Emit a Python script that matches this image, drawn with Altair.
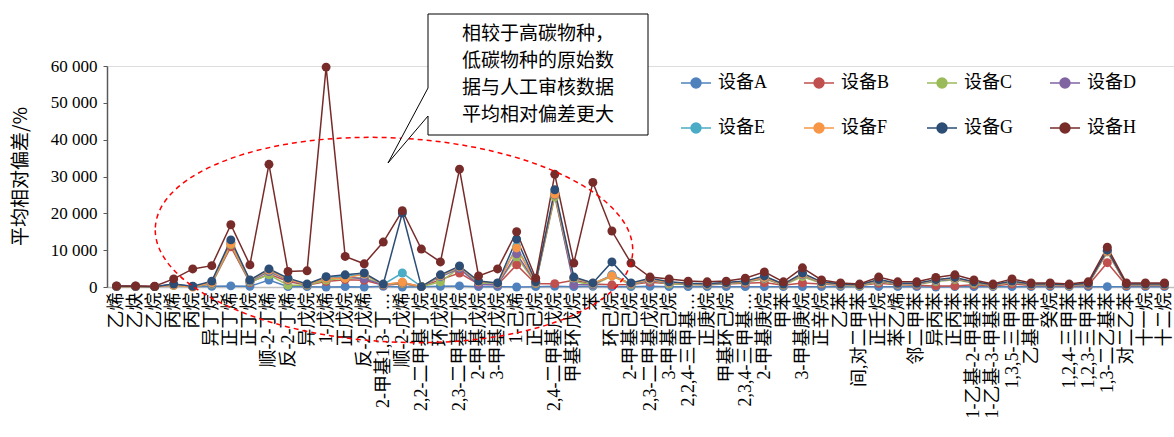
import altair as alt
import pandas as pd

categories = [
    "乙烯", "乙炔", "乙烷", "丙烯", "丙烷", "异丁烷", "正丁烯", "正丁烷", "顺-2-丁烯", "反-2-丁烯",
    "异戊烷", "1-戊烯", "正戊烷", "反-2-戊烯", "2-甲基1,3-丁…", "顺-2-戊烯", "2,2-二甲基丁烷", "环戊烷",
    "2,3-二甲基丁烷", "2-甲基戊烷", "3-甲基戊烷", "1-己烯", "正己烷", "2,4-二甲基戊烷", "甲基环戊烷", "苯",
    "环己烷", "2-甲基己烷", "2,3-二甲基戊烷", "3-甲基己烷", "2,2,4-三甲基…", "正庚烷", "甲基环己烷",
    "2,3,4-三甲基…", "2-甲基庚烷", "甲苯", "3-甲基庚烷", "正辛烷", "乙苯", "间,对二甲苯", "正壬烷", "苯乙烯",
    "邻二甲苯", "异丙苯", "正丙苯", "1-乙基-2-甲基苯", "1-乙基-3-甲基苯", "1,3,5-三甲苯", "乙基甲苯", "癸烷",
    "1,2,4-三甲苯", "1,2,3-三甲苯", "1,3-二乙基苯", "对二乙苯", "十一烷", "十二烷",
]

series_names = ["设备A", "设备B", "设备C", "设备D", "设备E", "设备F", "设备G", "设备H"]
series_colors = ["#4F81BD", "#C0504D", "#9BBB59", "#8064A2", "#4BACC6", "#F79646", "#2C4D75", "#772C2A"]

dev_a = [100, 100, 100, 800, 100, 200, 300, 200, 1900, 100, 100, 0, 100, 0, 200, 0, 100, 200, 300, 100,
         100, 0, 100, 200, 100, 200, 100, 100, 200, 100, 100, 100, 100, 100, 100, 100, 100, 100, 100, 100,
         100, 100, 100, 0, 100, 100, 100, 100, 100, 100, 100, 100, 100, 100, 100, 100]
dev_b = [200, 200, 100, 600, 100, 900, 10900, 1200, 3500, 1500, 500, 1500, 2000, 1800, 500, 900, 100, 2000,
         3800, 800, 600, 6000, 900, 900, 1800, 800, 600, 700, 1300, 900, 700, 600, 800, 1000, 1200, 500,
         1100, 800, 500, 400, 1000, 600, 500, 300, 300, 600, 300, 800, 400, 400, 300, 500, 6600, 400, 400, 400]
dev_c = [100, 100, 100, 400, 100, 800, 11500, 1400, 3300, 500, 500, 1900, 2400, 2600, 600, 1000, 100, 1400,
         5200, 1000, 800, 8200, 1000, 24500, 1500, 500, 3000, 600, 1800, 800, 700, 600, 900, 1300, 2200, 500,
         2800, 1000, 500, 300, 1500, 700, 700, 1500, 2000, 1000, 400, 1300, 600, 600, 400, 700, 9500, 600, 600, 600]
dev_d = [100, 100, 100, 500, 100, 1000, 12000, 1600, 4200, 1800, 600, 2400, 2800, 2200, 600, 1200, 100, 2800,
         5000, 600, 600, 9000, 1200, 25000, 600, 600, 3300, 800, 1800, 1100, 800, 700, 1000, 1400, 2400, 600,
         3300, 1100, 600, 500, 1700, 800, 800, 1700, 2200, 1200, 500, 1400, 700, 700, 500, 800, 9600, 700, 700, 700]
dev_e = [100, 100, 100, 600, 100, 1200, 12200, 1700, 4500, 2000, 700, 2600, 3000, 3400, 700, 3800, 100, 3000,
         5400, 1400, 900, 11000, 1300, 25500, 2400, 900, 3200, 900, 2000, 1200, 900, 800, 1100, 1500, 2600, 700,
         3500, 1200, 700, 500, 1800, 900, 900, 1800, 2400, 1300, 500, 1500, 700, 700, 500, 900, 9800, 700, 700, 700]
dev_f = [100, 100, 100, 500, 0, 1200, 11800, 1800, 4600, 2000, 700, 2400, 2400, 3500, 700, 1300, 100, 3100,
         5500, 1400, 1000, 10600, 1300, 25200, 2500, 1000, 3000, 900, 2100, 1200, 900, 800, 1100, 1500, 2600, 700,
         3500, 1200, 700, 500, 1900, 900, 900, 1900, 2400, 1300, 500, 1500, 700, 700, 500, 900, 9700, 700, 700, 700]
dev_g = [200, 200, 100, 800, 200, 1600, 12800, 1900, 4900, 2400, 800, 2800, 3300, 3800, 800, 20100, 100, 3300,
         5700, 1600, 1100, 13000, 1400, 26400, 2700, 1100, 6800, 1100, 2400, 1400, 1000, 900, 1200, 1600, 3000, 800,
         3800, 1400, 800, 600, 2000, 1000, 1000, 2000, 2600, 1400, 600, 1600, 800, 800, 600, 1000, 10000, 800, 800, 800]
dev_h = [300, 300, 200, 2200, 4900, 5800, 16900, 6000, 33300, 4200, 4400, 59700, 8300, 6300, 12200, 20700, 10300,
         6800, 32000, 3000, 4900, 15000, 2400, 30600, 6500, 28400, 15200, 6500, 2700, 2200, 1600, 1400, 1600, 2400,
         4100, 1400, 5200, 1900, 1100, 800, 2700, 1400, 1400, 2600, 3300, 1900, 800, 2200, 1100, 1100, 800, 1400,
         10800, 1100, 1100, 1100]

all_series = [dev_a, dev_b, dev_c, dev_d, dev_e, dev_f, dev_g, dev_h]

callout_lines = ["相较于高碳物种，", "低碳物种的原始数", "据与人工审核数据", "平均相对偏差更大"]

rows = []
for name, vals in zip(series_names, all_series):
    for i, (c, v) in enumerate(zip(categories, vals)):
        rows.append({"cat": c, "series": name, "value": v, "idx": i})
df = pd.DataFrame(rows)

serif = "'Liberation Serif', 'Times New Roman', 'Noto Sans CJK SC'"
cjk = "'Noto Sans CJK SC'"

legend_path = "M-1,0L1,0M-0.33,0A0.33,0.33,0,1,1,0.33,0A0.33,0.33,0,1,1,-0.33,0Z"
legend = alt.Legend(
    title=None, orient="none", legendX=573, legendY=1, columns=4, direction="horizontal",
    symbolType=legend_path, symbolSize=900, symbolStrokeWidth=1.5,
    labelFont=serif, labelFontSize=18, labelColor="#000000", labelOffset=6,
    columnPadding=34, rowPadding=20,
)

xenc = alt.X("cat:N", sort=categories, scale=alt.Scale(type="point", padding=0.5),
             axis=alt.Axis(title=None, labelAngle=270, labelFont=serif, labelFontSize=18,
                           labelColor="#000000", labelOverlap=False, labelLimit=200, labelPadding=5,
                           ticks=False, domainColor="#BFBFBF", domainWidth=1.5))
yenc = alt.Y("value:Q", scale=alt.Scale(domain=[0, 60000], nice=False),
             axis=alt.Axis(title="平均相对偏差/%", values=[0, 10000, 20000, 30000, 40000, 50000, 60000],
                           labelExpr="replace(format(datum.value, ','), ',', ' ')",
                           labelFont=serif, labelFontSize=17, labelColor="#000000", labelPadding=6,
                           titleFont=cjk, titleFontSize=19, titleFontWeight="normal", titleColor="#000000",
                           titleAngle=270, titleAlign="center", titleBaseline="middle",
                           titleX=-87, titleY=110,
                           grid=False, domainColor="#595959", domainWidth=1.5,
                           tickColor="#595959", tickSize=4))

scale = alt.Scale(domain=series_names, range=series_colors)

lines = alt.Chart(df).mark_line(strokeWidth=1.5).encode(
    x=xenc, y=yenc,
    stroke=alt.Stroke("series:N", scale=scale, legend=legend),
    order="idx:Q",
)
points = alt.Chart(df).mark_point(filled=True, size=80, opacity=1).encode(
    x=xenc, y=yenc,
    fill=alt.Fill("series:N", scale=scale, legend=legend),
)

anno_df = pd.DataFrame({"k": [0]})
ellipse = alt.Chart(anno_df).mark_point(
    shape="M-239,0A239,102,0,1,1,239,0A239,102,0,1,1,-239,0Z",
    size=4, filled=False, stroke="#FF0000", strokeDash=[5, 4], strokeWidth=1.5, opacity=1, angle=3,
).encode(x=alt.value(287), y=alt.value(174))

callout = alt.Chart(anno_df).mark_point(
    shape="M321,-52L541,-52L541,69L321,69L321,50L281,97L321,22Z",
    size=4, filled=True, fill="#FFFFFF", stroke="#000000", strokeWidth=1, opacity=1,
).encode(x=alt.value(0), y=alt.value(0))

text_df = pd.DataFrame({"t": ["\n".join(callout_lines)]})
callout_text = alt.Chart(text_df).mark_text(
    align="left", baseline="top", font=cjk, fontSize=19, lineHeight=27, lineBreak="\n", color="#000000",
).encode(x=alt.value(355), y=alt.value(-41), text="t:N")

chart = alt.layer(lines, points, ellipse, callout, callout_text).properties(
    width=1067, height=221,
    autosize=alt.AutoSizeParams(type="none"),
    padding={"left": 107, "top": 66, "right": 0, "bottom": 150},
).configure_view(stroke=None).configure(background="#FFFFFF")

chart.save("out.html", embed_options={"renderer": "svg", "actions": False})
